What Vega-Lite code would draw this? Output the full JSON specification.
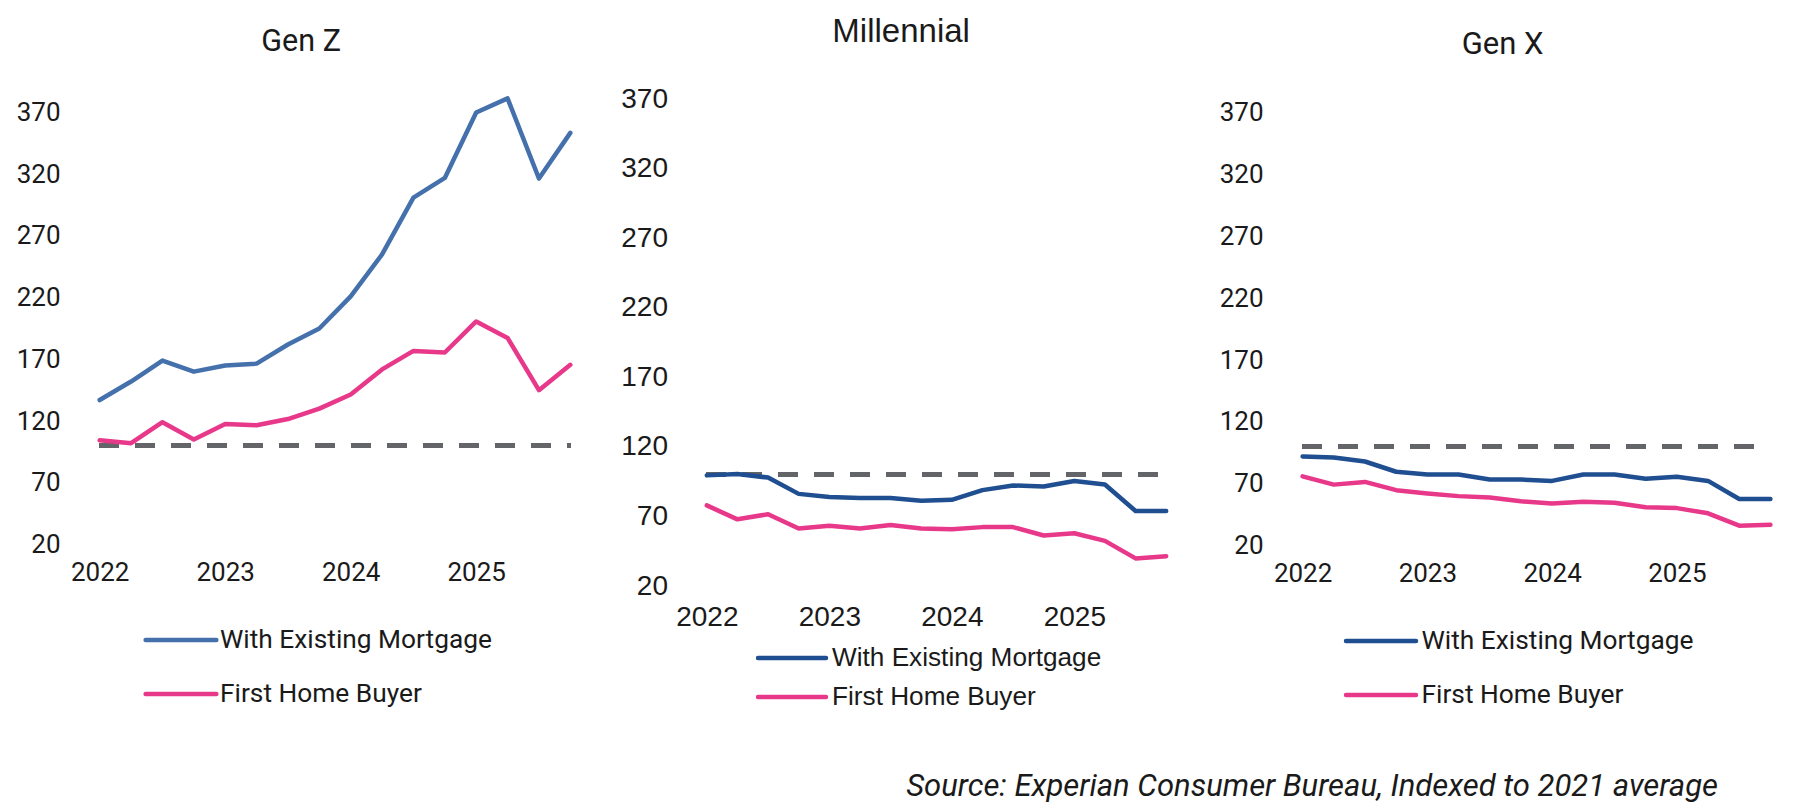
{
  "$schema": "https://vega.github.io/schema/vega-lite/v6.json",
  "background": "white",
  "padding": {"left": 16, "top": 16, "right": 6, "bottom": 4},
  "autosize": {"type": "pad"},
  "title": {
    "text": "Source: Experian Consumer Bureau, Indexed to 2021 average",
    "orient": "bottom", "anchor": "end", "font": "Roboto", "fontSize": 31,
    "fontStyle": "italic", "fontWeight": "normal", "color": "#1a1a1a",
    "offset": 61, "dx": -68
  },
  "data": {"values": [
    {"gen": "Gen Z", "q": "2022 Q1", "With Existing Mortgage": 137, "First Home Buyer": 104.4},
    {"gen": "Gen Z", "q": "2022 Q2", "With Existing Mortgage": 152, "First Home Buyer": 102},
    {"gen": "Gen Z", "q": "2022 Q3", "With Existing Mortgage": 169, "First Home Buyer": 119},
    {"gen": "Gen Z", "q": "2022 Q4", "With Existing Mortgage": 160, "First Home Buyer": 105},
    {"gen": "Gen Z", "q": "2023 Q1", "With Existing Mortgage": 165, "First Home Buyer": 117.5},
    {"gen": "Gen Z", "q": "2023 Q2", "With Existing Mortgage": 166.5, "First Home Buyer": 116.6},
    {"gen": "Gen Z", "q": "2023 Q3", "With Existing Mortgage": 182, "First Home Buyer": 121.6},
    {"gen": "Gen Z", "q": "2023 Q4", "With Existing Mortgage": 195, "First Home Buyer": 130},
    {"gen": "Gen Z", "q": "2024 Q1", "With Existing Mortgage": 221, "First Home Buyer": 141.5},
    {"gen": "Gen Z", "q": "2024 Q2", "With Existing Mortgage": 255, "First Home Buyer": 161.8},
    {"gen": "Gen Z", "q": "2024 Q3", "With Existing Mortgage": 301, "First Home Buyer": 176.8},
    {"gen": "Gen Z", "q": "2024 Q4", "With Existing Mortgage": 317, "First Home Buyer": 175.5},
    {"gen": "Gen Z", "q": "2025 Q1", "With Existing Mortgage": 370, "First Home Buyer": 200.7},
    {"gen": "Gen Z", "q": "2025 Q2", "With Existing Mortgage": 381.5, "First Home Buyer": 187.3},
    {"gen": "Gen Z", "q": "2025 Q3", "With Existing Mortgage": 316.5, "First Home Buyer": 145},
    {"gen": "Gen Z", "q": "2025 Q4", "With Existing Mortgage": 353.5, "First Home Buyer": 165.5},
    {"gen": "Millennial", "q": "2022 Q1", "With Existing Mortgage": 99.6, "First Home Buyer": 78},
    {"gen": "Millennial", "q": "2022 Q2", "With Existing Mortgage": 100.6, "First Home Buyer": 68},
    {"gen": "Millennial", "q": "2022 Q3", "With Existing Mortgage": 98, "First Home Buyer": 71.7},
    {"gen": "Millennial", "q": "2022 Q4", "With Existing Mortgage": 86.3, "First Home Buyer": 61.4},
    {"gen": "Millennial", "q": "2023 Q1", "With Existing Mortgage": 84, "First Home Buyer": 63.4},
    {"gen": "Millennial", "q": "2023 Q2", "With Existing Mortgage": 83.3, "First Home Buyer": 61.4},
    {"gen": "Millennial", "q": "2023 Q3", "With Existing Mortgage": 83.3, "First Home Buyer": 64},
    {"gen": "Millennial", "q": "2023 Q4", "With Existing Mortgage": 81.3, "First Home Buyer": 61.4},
    {"gen": "Millennial", "q": "2024 Q1", "With Existing Mortgage": 82, "First Home Buyer": 60.8},
    {"gen": "Millennial", "q": "2024 Q2", "With Existing Mortgage": 89, "First Home Buyer": 62.4},
    {"gen": "Millennial", "q": "2024 Q3", "With Existing Mortgage": 92.3, "First Home Buyer": 62.4},
    {"gen": "Millennial", "q": "2024 Q4", "With Existing Mortgage": 91.6, "First Home Buyer": 56.4},
    {"gen": "Millennial", "q": "2025 Q1", "With Existing Mortgage": 95.6, "First Home Buyer": 58},
    {"gen": "Millennial", "q": "2025 Q2", "With Existing Mortgage": 93, "First Home Buyer": 52.5},
    {"gen": "Millennial", "q": "2025 Q3", "With Existing Mortgage": 74, "First Home Buyer": 39.9},
    {"gen": "Millennial", "q": "2025 Q4", "With Existing Mortgage": 74, "First Home Buyer": 41.5},
    {"gen": "Gen X", "q": "2022 Q1", "With Existing Mortgage": 92, "First Home Buyer": 76},
    {"gen": "Gen X", "q": "2022 Q2", "With Existing Mortgage": 91.3, "First Home Buyer": 69.3},
    {"gen": "Gen X", "q": "2022 Q3", "With Existing Mortgage": 88, "First Home Buyer": 71.5},
    {"gen": "Gen X", "q": "2022 Q4", "With Existing Mortgage": 79.7, "First Home Buyer": 64.8},
    {"gen": "Gen X", "q": "2023 Q1", "With Existing Mortgage": 77.5, "First Home Buyer": 62.2},
    {"gen": "Gen X", "q": "2023 Q2", "With Existing Mortgage": 77.5, "First Home Buyer": 60},
    {"gen": "Gen X", "q": "2023 Q3", "With Existing Mortgage": 73.4, "First Home Buyer": 58.8},
    {"gen": "Gen X", "q": "2023 Q4", "With Existing Mortgage": 73.4, "First Home Buyer": 55.8},
    {"gen": "Gen X", "q": "2024 Q1", "With Existing Mortgage": 72.3, "First Home Buyer": 54},
    {"gen": "Gen X", "q": "2024 Q2", "With Existing Mortgage": 77.5, "First Home Buyer": 55.5},
    {"gen": "Gen X", "q": "2024 Q3", "With Existing Mortgage": 77.5, "First Home Buyer": 54.7},
    {"gen": "Gen X", "q": "2024 Q4", "With Existing Mortgage": 74.1, "First Home Buyer": 51},
    {"gen": "Gen X", "q": "2025 Q1", "With Existing Mortgage": 75.6, "First Home Buyer": 50.3},
    {"gen": "Gen X", "q": "2025 Q2", "With Existing Mortgage": 72.3, "First Home Buyer": 46.1},
    {"gen": "Gen X", "q": "2025 Q3", "With Existing Mortgage": 57.7, "First Home Buyer": 36.1},
    {"gen": "Gen X", "q": "2025 Q4", "With Existing Mortgage": 57.7, "First Home Buyer": 36.8}
  ]},
  "transform": [{"fold": ["With Existing Mortgage", "First Home Buyer"], "as": ["series", "index"]}],
  "spacing": 105.5,
  "bounds": "flush",
  "resolve": {
    "scale": {"x": "independent", "y": "independent", "color": "independent"},
    "legend": {"color": "independent"}
  },
  "hconcat": [
    {
      "title": {"text": "Gen Z", "frame": "bounds", "font": "Roboto", "fontSize": 30.5, "fontWeight": "normal", "color": "#1a1a1a", "offset": 9},
      "width": 502,
      "height": 478.4,
      "transform": [{"filter": "datum.gen == 'Gen Z'"}],
      "layer": [
        {
          "mark": {"type": "rule", "color": "#636569", "strokeWidth": 4.5, "strokeDash": [19, 17]},
          "encoding": {
            "x": {"datum": "2022 Q1", "type": "ordinal"},
            "x2": {"datum": "2025 Q4"},
            "y": {"datum": 100, "type": "quantitative"}
          }
        },
        {
          "mark": {"type": "line", "strokeWidth": 4.5, "strokeCap": "round", "strokeJoin": "round"},
          "encoding": {
            "x": {
              "field": "q", "type": "ordinal",
              "scale": {"type": "point", "padding": 0.5},
              "axis": {
                "title": null, "domain": false, "ticks": false, "grid": false, "labelAngle": 0,
                "labelAlign": "center", "labelOverlap": false, "labelFlush": false,
                "labelFont": "Roboto", "labelFontSize": 26, "labelColor": "#1a1a1a",
                "labelPadding": 28,
                "labelExpr": "substring(datum.value, 5, 7) == 'Q1' ? substring(datum.value, 0, 4) : ''"
              }
            },
            "y": {
              "field": "index", "type": "quantitative",
              "scale": {"domain": [20, 407.7], "nice": false, "zero": false},
              "axis": {
                "title": null, "domain": false, "ticks": false,
                "values": [20, 70, 120, 170, 220, 270, 320, 370],
                "gridColor": "#e4e4e4", "gridWidth": 2.3,
                "labelFont": "Roboto", "labelFontSize": 26, "labelColor": "#1a1a1a", "labelPadding": 24
              }
            },
            "color": {
              "field": "series", "type": "nominal",
              "scale": {"domain": ["With Existing Mortgage", "First Home Buyer"], "range": ["#4470ab", "#e8388a"]},
              "legend": {
                "title": null, "orient": "none", "legendX": 59, "legendY": 560.5, "direction": "vertical",
                "symbolType": "stroke", "symbolSize": 5000, "symbolStrokeWidth": 4.5, "clipHeight": 27,
                "labelFont": "Roboto", "labelFontSize": 26.3, "labelColor": "#1a1a1a",
                "rowPadding": 27, "labelOffset": 1, "padding": 0, "labelLimit": 400,
                "encode": {"symbols": {"update": {"strokeCap": {"value": "round"}}}}
              }
            }
          }
        }
      ]
    },
    {
      "title": {"text": "Millennial", "frame": "bounds", "font": "Liberation Sans", "fontSize": 33, "fontWeight": "normal", "color": "#1a1a1a", "offset": 17},
      "width": 490,
      "height": 520.1,
      "transform": [{"filter": "datum.gen == 'Millennial'"}],
      "layer": [
        {
          "mark": {"type": "rule", "color": "#636569", "strokeWidth": 4.5, "strokeDash": [19, 17]},
          "encoding": {
            "x": {"datum": "2022 Q1", "type": "ordinal"},
            "x2": {"datum": "2025 Q4"},
            "y": {"datum": 100, "type": "quantitative"}
          }
        },
        {
          "mark": {"type": "line", "strokeWidth": 4.5, "strokeCap": "round", "strokeJoin": "round"},
          "encoding": {
            "x": {
              "field": "q", "type": "ordinal",
              "scale": {"type": "point", "padding": 0.5},
              "axis": {
                "title": null, "domain": false, "ticks": false, "grid": false, "labelAngle": 0,
                "labelAlign": "center", "labelOverlap": false, "labelFlush": false,
                "labelFont": "Liberation Sans", "labelFontSize": 28, "labelColor": "#1a1a1a",
                "labelPadding": 31,
                "labelExpr": "substring(datum.value, 5, 7) == 'Q1' ? substring(datum.value, 0, 4) : ''"
              }
            },
            "y": {
              "field": "index", "type": "quantitative",
              "scale": {"domain": [20, 393.9], "nice": false, "zero": false},
              "axis": {
                "title": null, "domain": false, "ticks": false,
                "values": [20, 70, 120, 170, 220, 270, 320, 370],
                "gridColor": "#e4e4e4", "gridWidth": 2.3,
                "labelFont": "Liberation Sans", "labelFontSize": 28, "labelColor": "#1a1a1a", "labelPadding": 24
              }
            },
            "color": {
              "field": "series", "type": "nominal",
              "scale": {"domain": ["With Existing Mortgage", "First Home Buyer"], "range": ["#1f4e91", "#e8388a"]},
              "legend": {
                "title": null, "orient": "none", "legendX": 64, "legendY": 578.5, "direction": "vertical",
                "symbolType": "stroke", "symbolSize": 4624, "symbolStrokeWidth": 4.5, "clipHeight": 27,
                "labelFont": "Liberation Sans", "labelFontSize": 26.2, "labelColor": "#1a1a1a",
                "rowPadding": 12, "labelOffset": 3.5, "padding": 0, "labelLimit": 400,
                "encode": {"symbols": {"update": {"strokeCap": {"value": "round"}}}}
              }
            }
          }
        }
      ]
    },
    {
      "title": {"text": "Gen X", "frame": "bounds", "font": "Roboto", "fontSize": 31, "fontWeight": "normal", "color": "#1a1a1a", "offset": 5},
      "width": 499,
      "height": 479.6,
      "transform": [{"filter": "datum.gen == 'Gen X'"}],
      "layer": [
        {
          "mark": {"type": "rule", "color": "#636569", "strokeWidth": 4.5, "strokeDash": [19, 17]},
          "encoding": {
            "x": {"datum": "2022 Q1", "type": "ordinal"},
            "x2": {"datum": "2025 Q4"},
            "y": {"datum": 100, "type": "quantitative"}
          }
        },
        {
          "mark": {"type": "line", "strokeWidth": 4.5, "strokeCap": "round", "strokeJoin": "round"},
          "encoding": {
            "x": {
              "field": "q", "type": "ordinal",
              "scale": {"type": "point", "padding": 0.5},
              "axis": {
                "title": null, "domain": false, "ticks": false, "grid": false, "labelAngle": 0,
                "labelAlign": "center", "labelOverlap": false, "labelFlush": false,
                "labelFont": "Roboto", "labelFontSize": 26, "labelColor": "#1a1a1a",
                "labelPadding": 28,
                "labelExpr": "substring(datum.value, 5, 7) == 'Q1' ? substring(datum.value, 0, 4) : ''"
              }
            },
            "y": {
              "field": "index", "type": "quantitative",
              "scale": {"domain": [20, 407.75], "nice": false, "zero": false},
              "axis": {
                "title": null, "domain": false, "ticks": false,
                "values": [20, 70, 120, 170, 220, 270, 320, 370],
                "gridColor": "#e4e4e4", "gridWidth": 2.3,
                "labelFont": "Roboto", "labelFontSize": 26, "labelColor": "#1a1a1a", "labelPadding": 24
              }
            },
            "color": {
              "field": "series", "type": "nominal",
              "scale": {"domain": ["With Existing Mortgage", "First Home Buyer"], "range": ["#1f4e91", "#e8388a"]},
              "legend": {
                "title": null, "orient": "none", "legendX": 56.5, "legendY": 561.5, "direction": "vertical",
                "symbolType": "stroke", "symbolSize": 4900, "symbolStrokeWidth": 4.5, "clipHeight": 27,
                "labelFont": "Roboto", "labelFontSize": 26.3, "labelColor": "#1a1a1a",
                "rowPadding": 27, "labelOffset": 3, "padding": 0, "labelLimit": 400,
                "encode": {"symbols": {"update": {"strokeCap": {"value": "round"}}}}
              }
            }
          }
        }
      ]
    }
  ],
  "config": {"view": {"stroke": null}}
}
